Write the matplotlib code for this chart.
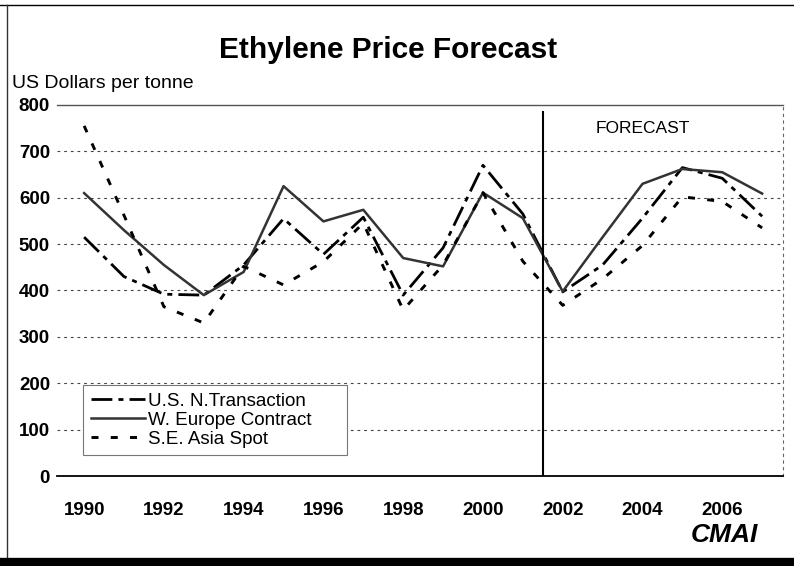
import matplotlib
matplotlib.use("Agg")
import matplotlib.pyplot as plt
from matplotlib.lines import Line2D

plt.rcParams['font.family'] = ['Liberation Sans', 'DejaVu Sans']

years = list(range(1990, 2008))
us_transaction = [515, 430, 392, 390, 455, 555, 478, 558, 390, 492, 670, 565, 397, 455, 556, 665, 642, 560]
we_contract = [610, 530, 455, 390, 440, 625, 549, 574, 470, 452, 611, 556, 398, 515, 630, 662, 655, 609]
asia_spot = [755, 562, 365, 330, 452, 412, 462, 545, 358, 455, 611, 463, 368, 425, 497, 602, 592, 535]
series_names = ['U.S. N.Transaction', 'W. Europe Contract', 'S.E. Asia Spot']
xtick_years = list(range(1990, 2007, 2))
yticks = list(range(0, 801, 100))
forecast_start = 2001.5

fig = plt.figure(figsize=(7.94, 5.66), dpi=100)
ax = fig.add_axes([0.0718, 0.159, 0.9142, 0.6555])

# lines
ax.plot(years, us_transaction, color='black', lw=2.0, dashes=(7.5, 2.2, 1.8, 2.2), label=series_names[0])
ax.plot(years, we_contract, color='#333333', lw=1.8, label=series_names[1])
ax.plot(years, asia_spot, color='black', lw=2.1, dashes=(2.4, 4.2), label=series_names[2])

# forecast divider
ax.axvline(forecast_start, ymin=0, ymax=0.982, color='black', lw=1.5)
ax.text(2004.0, 750, 'FORECAST', fontsize=12.5, ha='center', va='center')

ax.set_xlim(1989.32, 2007.52)
ax.set_ylim(0, 800)
ax.set_xticks(xtick_years)
ax.set_yticks(yticks)
ax.tick_params(axis='x', length=0, pad=19, labelsize=13.5)
ax.tick_params(axis='y', length=0, pad=5, labelsize=13.5)
for lab in ax.get_xticklabels() + ax.get_yticklabels():
    lab.set_fontweight('bold')

for y in yticks[1:-1]:
    ax.axhline(y, color='#444444', lw=0.8, dashes=(2.5, 3.5), zorder=0)

ax.spines['left'].set_visible(False)
ax.spines['top'].set_color('#555555')
ax.spines['top'].set_linewidth(1.0)
ax.spines['right'].set_color('#666666')
ax.spines['right'].set_linestyle((0, (2, 4)))
ax.spines['right'].set_linewidth(0.8)
ax.spines['bottom'].set_color('black')
ax.spines['bottom'].set_linewidth(1.3)

leg = ax.legend(loc='upper left', bbox_to_anchor=(0.036, 0.0485, 0.364, 0.1965), mode='expand',
                fontsize=13.5, frameon=True, fancybox=False, edgecolor='#777777', framealpha=1,
                borderaxespad=0, borderpad=0.4, labelspacing=0.1, handlelength=2.9,
                handletextpad=0.15)
leg.get_frame().set_linewidth(0.8)

fig.text(0.489, 0.912, 'Ethylene Price Forecast', fontsize=21.5, fontweight='bold', ha='center', va='center')
fig.text(0.015, 0.853, 'US Dollars per tonne', fontsize=14, ha='left', va='center')
fig.text(0.912, 0.054, 'CMAI', fontsize=19, fontweight='bold', style='italic', ha='center', va='center')

# page frame from the scan
fig.add_artist(Line2D([0, 1], [0.991, 0.991], color='black', lw=1.0, transform=fig.transFigure))
fig.add_artist(Line2D([0.0088, 0.0088], [0.0, 0.991], color='#333333', lw=1.0, transform=fig.transFigure))
fig.add_artist(Line2D([0, 1], [0.007, 0.007], color='black', lw=6, transform=fig.transFigure))

fig.savefig('out.png', dpi=100, facecolor='white')
